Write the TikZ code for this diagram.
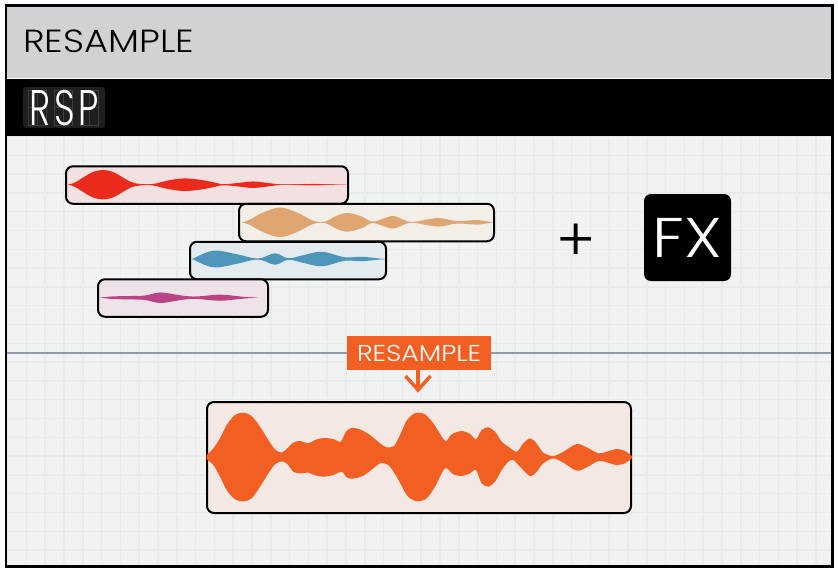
\documentclass[tikz,border=0pt]{standalone}
\usepackage{fontspec}
\usepackage{tikz}
\usetikzlibrary{positioning}
\newfontfamily\thinfont{Poppins Light}
\definecolor{panel}{HTML}{F1F2F2}
\definecolor{gridline}{HTML}{E9EBEB}
\definecolor{header}{HTML}{D1D2D4}
\definecolor{rsporange}{HTML}{F25F22}
\definecolor{wavered}{HTML}{EA2A1B}
\definecolor{wavesand}{HTML}{E0A672}
\definecolor{waveblue}{HTML}{4E95BA}
\definecolor{wavepink}{HTML}{B84486}
\definecolor{tintred}{HTML}{F3E1E1}
\definecolor{tintsand}{HTML}{F2EEE8}
\definecolor{tintblue}{HTML}{E4EBEF}
\definecolor{tintpink}{HTML}{EEE3E8}
\definecolor{tintmix}{HTML}{F3E8E4}
\definecolor{rule}{HTML}{8D9CAB}
\tikzset{clipbox/.style = {draw, line width = 2, rounded corners = 7, inner sep = 0,
                           minimum width = #1}}
\tikzset{smallclip/.style = {clipbox = #1, minimum height = 37.5}}
\tikzset{envelope/.style = {fill = #1}}
\newcommand{\wave}[3]{
    \path [envelope = #1, shift = {(0, #2 - 0.25)}] plot [smooth, tension = 0.6] coordinates {#3} -- cycle;
    \path [envelope = #1, shift = {(0, #2 + 0.25)}, yscale = -1] plot [smooth, tension = 0.6] coordinates {#3} -- cycle;
}
\begin{document}
\begin{tikzpicture}[x = 1pt, y = -1pt]
    \useasboundingbox (0, 0) rectangle (838, 574);
    \fill [panel] (6, 136) rectangle (832, 566);
    \foreach \i in {0, ..., 43} {
        \draw [gridline, line width = 1.5] (7.6 + 18.8 * \i, 136) -- (7.6 + 18.8 * \i, 566);
    }
    \foreach \i in {0, ..., 22} {
        \draw [gridline, line width = 1.5] (6, 136.5 + 18.8 * \i) -- (832, 136.5 + 18.8 * \i);
    }
    % header
    \fill [header] (6, 6) rectangle (832, 78);
    \fill (6, 79) rectangle (832, 136);
    \node (title) at (23, 41.5) [anchor = west, inner sep = 0, font = \thinfont\fontsize{32}{32}\selectfont] {\scalebox{1.15}[1]{RESAMPLE}};
    \node (display) at (64, 107.5) [fill = black!88, rounded corners = 3, inner sep = 0,
                                    minimum width = 82, minimum height = 41] {};
    \foreach \x in {28, 54, 80} {
        \draw [black!76, line width = 1] (\x, 90) rectangle (\x + 18, 125);
        \draw [black!76, line width = 1] (\x + 9, 90) -- (\x + 9, 125);
        \draw [black!76, line width = 1] (\x, 107.5) -- (\x + 18, 107.5);
    }
    \node (rsp) at (64, 107.5) [inner sep = 0, text = white, font = \thinfont\fontsize{50}{50}\selectfont] {\scalebox{0.72}[1]{\addfontfeature{LetterSpace = 10}RSP}};
    % clips
    \node (clipred) at (207, 185) [smallclip = 282, fill = tintred] {};
    \node (clipsand) at (366.5, 222.5) [smallclip = 255, fill = tintsand] {};
    \node (clipblue) at (288, 260.5) [smallclip = 196, fill = tintblue] {};
    \node (clippink) at (183, 298) [smallclip = 170, fill = tintpink] {};
    \wave{wavered}{184.7}{(68, 0) (75, 2.5) (84, 8) (93, 13) (103, 15) (113, 13) (122, 8) (131, 3) (140, 1) (153, 1)
                                (168, 4.5) (183, 6.5) (198, 5.5) (212, 3) (223, 0.8) (238, 2) (253, 3.5) (268, 2)
                                (280, 0.5) (290, 0.4) (313, 1) (330, 0.4) (347, 0)}
    \wave{wavesand}{222.3}{(242, 0) (250, 3) (263, 10) (280, 15) (297, 10) (313, 2) (325, 1) (337, 7)
                                (348, 9.5) (362, 6) (373, 1) (392, 6.5) (403, 3) (413, 0.7) (438, 4.5) (457, 1.5)
                                (478, 2.5) (493, 0)}
    \wave{waveblue}{259}{(192, 0) (213, 8.5) (237, 5) (258, 0.7) (275, 6) (288, 1) (303, 4) (322, 7.5)
                                (345, 2) (362, 2.5) (385, 0)}
    \wave{wavepink}{297.7}{(100, 0) (112, 1.5) (133, 2) (145, 2.5) (160, 5.5) (175, 3.5) (185, 2) (197, 1.5) (220, 3.3) (240, 1.5)
                                (257, 0)}
    % effect
    \node (plus) at (576, 243) [inner sep = 0, font = \thinfont\fontsize{60}{60}\selectfont] {+};
    \node (fx) at (687.5, 237.5) [fill = black, rounded corners = 7, inner sep = 0, minimum size = 87, text = white,
                                  font = \thinfont\fontsize{56}{56}\selectfont] {\scalebox{1.15}[1]{FX}};
    % resample
    \draw [rule, line width = 1.5] (6, 353) -- (832, 353);
    \node (label) at (419, 353) [fill = rsporange, inner sep = 0, minimum width = 144, minimum height = 34,
                                 text = white, font = \thinfont\fontsize{23}{23}\selectfont] {\scalebox{1.16}[1]{RESAMPLE}};
    \coordinate (tip) at (418, 390);
    \coordinate (wingl) at (405.5, 376);
    \coordinate (wingr) at (430.5, 376);
    \draw [rsporange, line width = 3.4] (label.south -| tip) -- (tip);
    \draw [rsporange, line width = 3.4] (wingl) -- (tip) -- (wingr);
    \node (clipmix) at (419, 457.5) [clipbox = 424, minimum height = 111, fill = tintmix] {};
    \begin{scope}[shift = {(200, 330)}, scale = 1 / 3]
        \path [fill = rsporange] plot [smooth, tension = 0.5] coordinates {(20, 375) (40, 355) (60, 325) (80, 285)
            (105, 255) (130, 248) (155, 258) (180, 290) (205, 330) (225, 358) (245, 368) (262, 355) (280, 338)
            (300, 333) (325, 340) (345, 330) (370, 324) (400, 327) (422, 335) (438, 305) (455, 294) (480, 298)
            (510, 315) (540, 340) (560, 352) (582, 348) (600, 315) (620, 272) (640, 252) (655, 248) (675, 253)
            (700, 280) (735, 332) (755, 313) (785, 303) (810, 312) (828, 328) (845, 300) (865, 292) (885, 305)
            (905, 335) (925, 350) (950, 365) (970, 340) (990, 325) (1008, 338) (1030, 368) (1060, 378) (1090, 365)
            (1130, 342) (1160, 352) (1195, 370) (1220, 365) (1250, 357) (1275, 363) (1295, 378)}
            -- (1295, 385) -- (20, 385) -- cycle;
        \path [fill = rsporange] plot [smooth, tension = 0.5] coordinates {(20, 388) (40, 405) (60, 440) (80, 480)
            (105, 508) (130, 514) (155, 505) (180, 470) (205, 430) (225, 403) (245, 394) (262, 402) (280, 425)
            (300, 430) (325, 428) (345, 436) (370, 440) (400, 435) (425, 425) (440, 442) (458, 446) (490, 437)
            (520, 415) (540, 400) (565, 405) (590, 440) (620, 495) (640, 510) (655, 514) (680, 505) (705, 470)
            (735, 415) (760, 433) (785, 438) (810, 430) (828, 420) (845, 460) (865, 470) (885, 455) (905, 420)
            (925, 395) (940, 390) (960, 410) (990, 438) (1010, 425) (1030, 400) (1060, 385) (1090, 398) (1130, 422)
            (1160, 412) (1195, 393) (1220, 397) (1250, 405) (1275, 400) (1295, 385)}
            -- (1295, 378) -- (20, 378) -- cycle;
    \end{scope}
    % frame
    \draw [line width = 2.2] (6, 5.5) rectangle (832.5, 566.5);
\end{tikzpicture}
\end{document}
